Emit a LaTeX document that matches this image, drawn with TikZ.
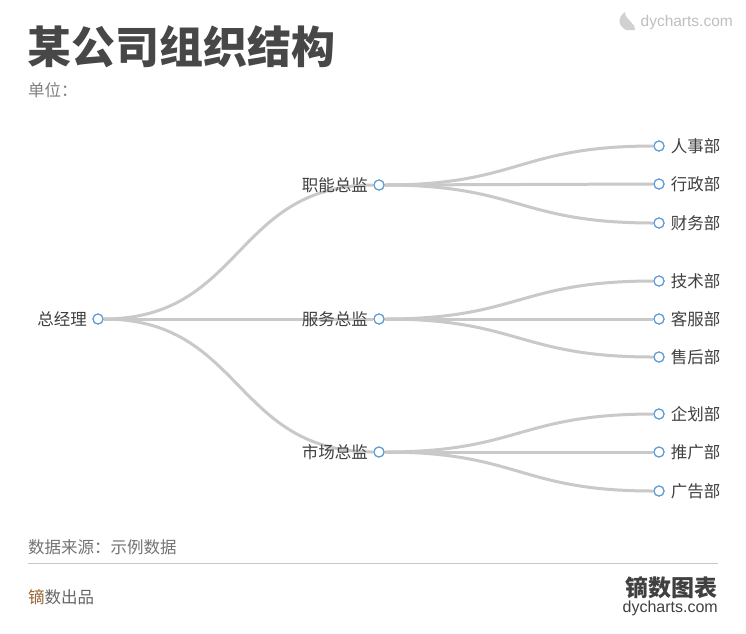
\documentclass[tikz,border=0pt]{standalone}
\usepackage{fontspec}
\setmainfont{Noto Sans CJK SC}
\newfontfamily\lat{Liberation Sans}
\definecolor{dotc}{HTML}{5B9BD5}
\begin{document}
\begin{tikzpicture}[x=1pt,y=-1pt,
  link/.style={draw=black!21,line width=3pt},
  dot/.style={circle,draw=dotc,fill=white,line width=1.1pt,minimum size=10pt,inner sep=0pt},
  lab/.style={font=\fontsize{16.5}{17}\selectfont,text=black!75,inner sep=0pt}]
\useasboundingbox (0,0) rectangle (746,633);
\fill[white] (0,0) rectangle (746,633);
\node[anchor=west,inner sep=0pt,font=\fontsize{44}{44}\selectfont\bfseries,text=black!72] (title) at (27,47) {某公司组织结构};
\node[anchor=west,inner sep=0pt,font=\fontsize{16.5}{17}\selectfont,text=black!50] (unit) at (28,90) {单位：};
\node[anchor=east,inner sep=0pt,font=\lat\fontsize{15.5}{16}\selectfont,text=black!25] (wm) at (733,22) {dycharts.com};
\fill[black!18] (626,30) .. controls (617,25) and (618,17) .. (625,12) .. controls (625,20) and (635,22) .. (635,30) -- cycle;
\node[dot] (r) at (98,319) {};
\node[dot] (a) at (379,185) {};
\node[dot] (b) at (379,319) {};
\node[dot] (c) at (379,452) {};
\foreach \n/\y in {a1/146,a2/184,a3/223,b1/281,b2/319,b3/357,c1/414,c2/452,c3/491}
  \node[dot] (\n) at (659,\y) {};
\foreach \p/\q in {r/a,r/b,r/c}
  \draw[link] (\p.east) .. controls ([xshift=140]\p.east) and ([xshift=-140]\q.west) .. (\q.west);
\foreach \p in {a,b,c}
  \foreach \k in {1,2,3}
    \draw[link] (\p.east) .. controls ([xshift=135]\p.east) and ([xshift=-135]\p\k.west) .. (\p\k.west);
\foreach \n in {r,a,b,c,a1,a2,a3,b1,b2,b3,c1,c2,c3} \node[dot] at (\n) {};
\node[lab,anchor=east] (lr) at (87,319) {总经理};
\node[lab,anchor=east] (la) at (368,185) {职能总监};
\node[lab,anchor=east] (lb) at (368,319) {服务总监};
\node[lab,anchor=east] (lc) at (368,452) {市场总监};
\foreach \n/\t in {a1/人事部,a2/行政部,a3/财务部,b1/技术部,b2/客服部,b3/售后部,c1/企划部,c2/推广部,c3/广告部}
  \node[lab,anchor=west] at ([xshift=6]\n.east) {\t};
\node[anchor=west,inner sep=0pt,font=\fontsize{16.5}{17}\selectfont,text=black!55] (src) at (28,547) {数据来源：示例数据};
\coordinate (l1) at (28,563); \coordinate (l2) at (718,563);
\draw[black!22,line width=0.8pt] (l1) -- (l2);
\node[anchor=west,inner sep=0pt,font=\fontsize{16.5}{17}\selectfont,text=black!60] (brand) at (28,597) {{\color{brown!80!black}镝}数出品};
\node[anchor=east,inner sep=0pt,font=\fontsize{23}{23}\selectfont\bfseries,text=black!75] (logo) at (718,588) {镝数图表};
\node[anchor=east,inner sep=0pt,font=\lat\fontsize{16}{16}\selectfont,text=black!75] (logo2) at (718,608) {dycharts.com};
\end{tikzpicture}
\end{document}
